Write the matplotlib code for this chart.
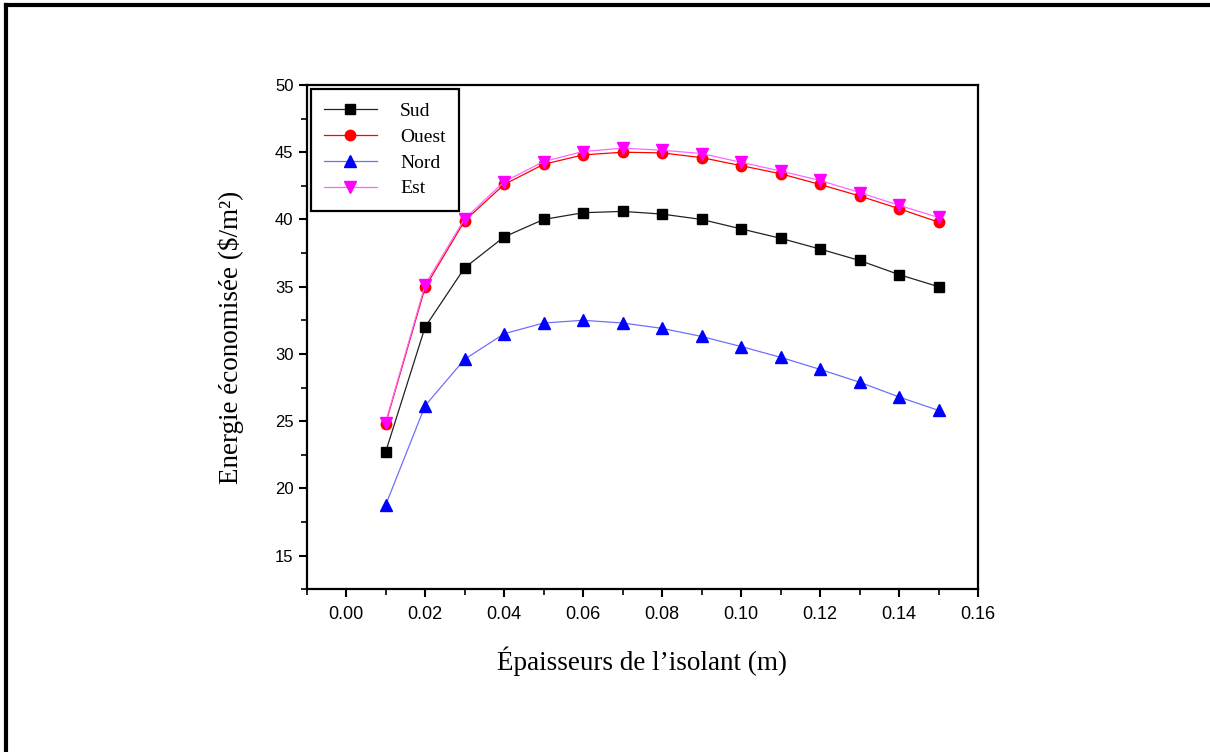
import matplotlib
matplotlib.use("Agg")
import matplotlib.pyplot as plt
from matplotlib.lines import Line2D
from matplotlib.ticker import MultipleLocator, FormatStrFormatter

# epaisseur de l'isolant (m)
epaisseur = [0.01, 0.02, 0.03, 0.04, 0.05, 0.06, 0.07, 0.08,
             0.09, 0.10, 0.11, 0.12, 0.13, 0.14, 0.15]

# energie economisee ($/m2) par orientation
sud = [22.7, 32.0, 36.4, 38.7, 40.0, 40.5, 40.6, 40.4,
       40.0, 39.3, 38.6, 37.8, 36.95, 35.9, 35.0]
ouest = [24.8, 34.95, 39.9, 42.6, 44.1, 44.8, 45.0, 44.95,
         44.6, 44.0, 43.4, 42.6, 41.75, 40.8, 39.8]
nord = [18.75, 26.15, 29.6, 31.5, 32.3, 32.5, 32.3, 31.9,
        31.3, 30.55, 29.75, 28.85, 27.9, 26.8, 25.8]
est = [24.9, 35.15, 40.05, 42.8, 44.3, 45.05, 45.3, 45.15,
       44.9, 44.25, 43.6, 42.9, 42.0, 41.05, 40.15]

noms = ["Sud", "Ouest", "Nord", "Est"]

serif = ["Liberation Serif", "DejaVu Serif"]
sans = ["Liberation Sans", "DejaVu Sans"]

fig = plt.figure(figsize=(12.1, 7.52), dpi=100)
ax = fig.add_axes([0.2534, 0.2164, 0.5549, 0.6706])

# cadre de la page (haut et gauche)
fig.add_artist(Line2D([0.005, 1.0], [0.9935, 0.9935], color="black", lw=3,
                      transform=fig.transFigure))
fig.add_artist(Line2D([0.005, 0.005], [0.0, 0.9935], color="black", lw=3,
                      transform=fig.transFigure))

ax.plot(epaisseur, sud, color="#222222", lw=0.9, marker="s", ms=7,
        mfc="black", mec="black", label=noms[0])
ax.plot(epaisseur, ouest, color="red", lw=0.9, marker="o", ms=7.5,
        mfc="red", mec="red", label=noms[1])
ax.plot(epaisseur, nord, color="#6f6fff", lw=0.9, marker="^", ms=8.5,
        mfc="blue", mec="blue", label=noms[2])
ax.plot(epaisseur, est, color="#ff66ff", lw=0.9, marker="v", ms=8.5,
        mfc="magenta", mec="magenta", label=noms[3])

ax.set_xlim(-0.01, 0.16)
ax.set_ylim(12.5, 50)
ax.xaxis.set_major_locator(MultipleLocator(0.02))
ax.xaxis.set_minor_locator(MultipleLocator(0.01))
ax.xaxis.set_major_formatter(FormatStrFormatter("%.2f"))
ax.yaxis.set_major_locator(MultipleLocator(5))
ax.yaxis.set_minor_locator(MultipleLocator(2.5))
ax.set_yticks([15, 20, 25, 30, 35, 40, 45, 50])

for s in ax.spines.values():
    s.set_linewidth(1.6)
ax.tick_params(which="major", direction="out", length=6, width=1.5,
               top=False, right=False)
ax.tick_params(which="minor", direction="out", length=4, width=1.2,
               top=False, right=False)
ax.tick_params(axis="x", which="major", pad=6)

for lab in ax.get_yticklabels():
    lab.set_family(sans)
    lab.set_fontsize(12)
for lab in ax.get_xticklabels():
    lab.set_family(sans)
    lab.set_fontsize(13)

ax.set_xlabel("Épaisseurs de l’isolant (m)", family=serif, fontsize=19.5,
              labelpad=17)
ax.set_ylabel("Energie économisée ($/m²)", family=serif, fontsize=19.5,
              labelpad=22)

leg = ax.legend(loc="upper left", bbox_to_anchor=(0.0, 1.0), fancybox=False,
                edgecolor="black", framealpha=1, handlelength=2.7,
                borderpad=0.7, labelspacing=0.42, handletextpad=1.2,
                borderaxespad=0.2, prop={"family": serif, "size": 14})
leg.get_frame().set_linewidth(1.6)

fig.savefig("out.png", dpi=100)
